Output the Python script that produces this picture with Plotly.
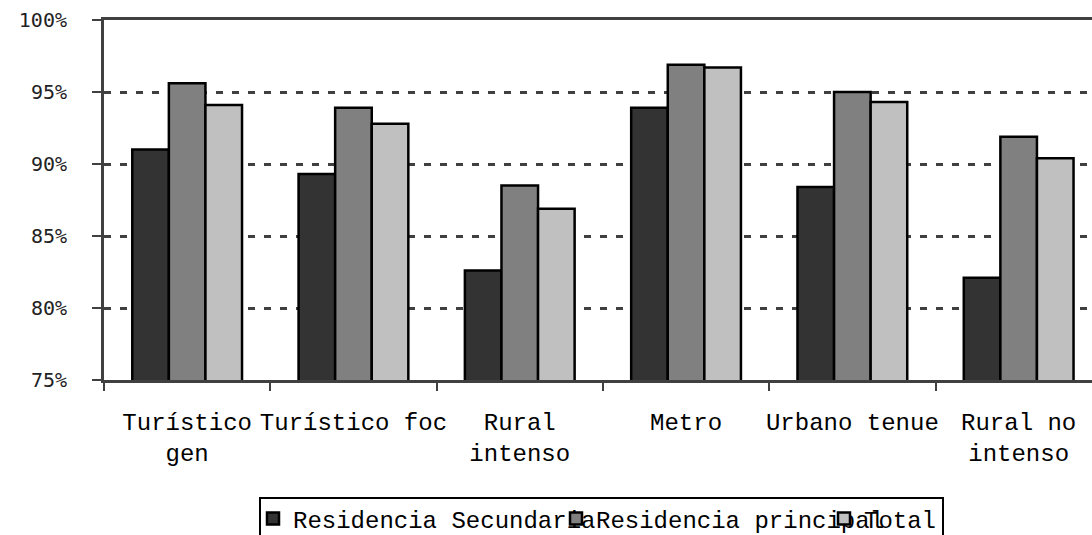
import plotly.graph_objects as go

# Categories and shares (%) per type of dwelling
categories = ["Turístico gen", "Turístico foc", "Rural intenso", "Metro", "Urbano tenue", "Rural no intenso"]
tick_labels = ["Turístico<br>gen", "Turístico foc", "Rural<br>intenso", "Metro", "Urbano tenue", "Rural no<br>intenso"]
secundaria = [91.0, 89.3, 82.6, 93.9, 88.4, 82.1]
principal = [95.6, 93.9, 88.5, 96.9, 95.0, 91.9]
total = [94.1, 92.8, 86.9, 96.7, 94.3, 90.4]

series = [
    ("Residencia Secundaria", secundaria, "#333333", "legend"),
    ("Residencia principal", principal, "#808080", "legend2"),
    ("Total", total, "#C0C0C0", "legend3"),
]

W, H = 1092, 535
ML, MR, MT, MB = 104, 0, 20, 155
PW, PH = W - ML - MR, H - MT - MB

def px_x(p):
    return (p - ML) / PW

def px_y(p):
    return (H - MB - p) / PH

fig = go.Figure()
for name, vals, color, leg in series:
    fig.add_trace(go.Bar(
        x=categories, y=vals, name=name, legend=leg,
        marker=dict(color=color, line=dict(color="#000000", width=2.5)),
    ))

mono = "Liberation Mono"
legend_style = dict(
    orientation="h", xanchor="left", yanchor="middle",
    xref="container", yref="container",
    bgcolor="rgba(0,0,0,0)", borderwidth=0,
    font=dict(family=mono, size=24, color="#000000"),
    itemclick=False, itemdoubleclick=False,
)
leg_y = (H - 519) / H

fig.update_layout(
    width=W, height=H,
    margin=dict(l=ML, r=MR, t=MT, b=MB, pad=0),
    paper_bgcolor="white", plot_bgcolor="white",
    barmode="group", bargap=0.34, bargroupgap=0,
    legend=dict(x=(267 - 14) / W, y=leg_y, **legend_style),
    legend2=dict(x=(570 - 14) / W, y=leg_y, **legend_style),
    legend3=dict(x=(838 - 14) / W, y=leg_y, **legend_style),
    xaxis=dict(
        type="category", range=[-0.5, 5.441],
        tickmode="array", tickvals=categories, ticktext=tick_labels,
        tickangle=0, tickson="boundaries", ticks="outside", ticklen=8,
        tickwidth=2, tickcolor="#404040",
        showline=True, linecolor="#404040", linewidth=3, mirror=True,
        showgrid=False, ticklabelstandoff=18,
        tickfont=dict(family=mono, size=24, color="#000000"),
    ),
    yaxis=dict(
        range=[75, 100], tick0=75, dtick=5, ticksuffix="%",
        ticks="outside", ticklen=9, tickwidth=2, tickcolor="#404040",
        showline=True, linecolor="#404040", linewidth=3,
        showgrid=True, gridcolor="#404040", gridwidth=2.5, griddash="7px,9px",
        zeroline=False, ticklabelstandoff=21,
        tickfont=dict(family="DejaVu Sans Mono", size=20, color="#222222"),
    ),
    showlegend=True,
    shapes=[dict(
        type="rect", xref="paper", yref="paper",
        x0=px_x(260), x1=px_x(943), y0=px_y(537), y1=px_y(498),
        line=dict(color="#000000", width=2), fillcolor="rgba(0,0,0,0)", layer="above",
    )],
)

fig.write_html("out.html")
